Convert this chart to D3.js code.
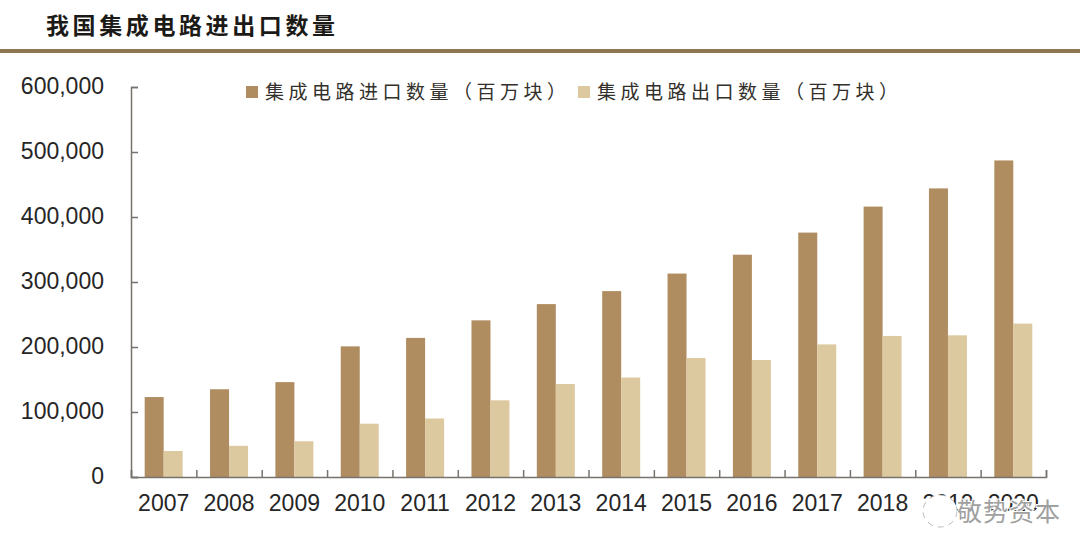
<!DOCTYPE html>
<html>
<head>
    <meta charset="utf-8">
    <title>我国集成电路进出口数量</title>
    <style>
        html, body { margin: 0; padding: 0; background-color: #fff; overflow: hidden; }
        text { font-family: "Liberation Sans", Arial, sans-serif; }
        .cjk { font-family: "Noto Sans CJK SC", sans-serif; }
    </style>
    <script src="https://d3js.org/d3.v7.min.js"></script>
</head>
<body>
    <svg id="chart" width="1080" height="539"></svg>
    <script>
        const titleText = "我国集成电路进出口数量";
        const years = ["2007", "2008", "2009", "2010", "2011", "2012", "2013", "2014", "2015", "2016", "2017", "2018", "2019", "2020"];
        const importValues = [123000, 135000, 146000, 201000, 214000, 241000, 266000, 286000, 313000, 342000, 376000, 416000, 444000, 487000];
        const exportValues = [40000, 48000, 55000, 82000, 90000, 118000, 143000, 153000, 183000, 180000, 204000, 217000, 218000, 236000];
        const yTicks = [0, 100000, 200000, 300000, 400000, 500000, 600000];
        const importName = "集成电路进口数量（百万块）";
        const exportName = "集成电路出口数量（百万块）";
        const watermark = "敬势资本";

        const svg = d3.select("#chart");
        const axisColor = "#77736c";
        const importColor = "#b08d60";
        const exportColor = "#dcc9a0";

        // plot area edges
        const plotLeft = 131, plotRight = 1046, plotTop = 87, plotBottom = 477;

        const x = d3.scaleBand().domain(years).range([plotLeft, plotRight]);
        const series = d3.scaleBand().domain(["import", "export"]).range([x.bandwidth() / 2 - 19, x.bandwidth() / 2 + 19]);
        const y = d3.scaleLinear().domain([0, 600000]).range([plotBottom, plotTop]);
        // ticks on the x axis sit between the categories
        const edges = d3.scaleLinear().domain([0, years.length]).range([plotLeft, plotRight]);

        // title and rule
        svg.append("text").attr("class", "cjk")
            .attr("x", 46).attr("y", 34)
            .attr("font-size", 23).attr("font-weight", 700)
            .attr("letter-spacing", 3.6).attr("fill", "#1c1a17")
            .text(titleText);
        svg.append("line")
            .attr("x1", 0).attr("x2", 1080).attr("y1", 51).attr("y2", 51)
            .attr("stroke", "#8d7552").attr("stroke-width", 4);

        // bars
        const groups = svg.selectAll(".year").data(years).enter().append("g")
            .attr("class", "year")
            .attr("transform", function (d) { return "translate(" + x(d) + ",0)"; });

        groups.append("rect")
            .attr("x", series("import")).attr("width", series.bandwidth())
            .attr("y", function (d, i) { return y(importValues[i]); })
            .attr("height", function (d, i) { return plotBottom - y(importValues[i]); })
            .attr("fill", importColor);

        groups.append("rect")
            .attr("x", series("export")).attr("width", series.bandwidth())
            .attr("y", function (d, i) { return y(exportValues[i]); })
            .attr("height", function (d, i) { return plotBottom - y(exportValues[i]); })
            .attr("fill", exportColor);

        // y axis
        const yAxis = svg.append("g")
            .attr("transform", "translate(" + plotLeft + ",0)")
            .call(d3.axisLeft(y).tickValues(yTicks).tickSize(-7).tickPadding(27).tickFormat(d3.format(",")));
        yAxis.selectAll("text").attr("font-size", 23).attr("fill", "#262626").attr("dy", "0.3em");

        // x axis: labels
        const xLabels = svg.append("g")
            .attr("transform", "translate(0," + plotBottom + ")")
            .call(d3.axisBottom(x).tickSize(0).tickPadding(18));
        xLabels.select(".domain").remove();
        xLabels.selectAll("text").attr("font-size", 23).attr("fill", "#262626");

        // x axis: line and ticks
        svg.append("g")
            .attr("transform", "translate(0," + plotBottom + ")")
            .call(d3.axisBottom(edges).tickValues(d3.range(years.length + 1)).tickSize(-7).tickFormat(""));

        svg.selectAll(".domain, .tick line").attr("stroke", axisColor).attr("stroke-width", 1.5);

        // legend
        const legend = [
            { name: importName, color: importColor, x: 246 },
            { name: exportName, color: exportColor, x: 578 }
        ];
        const items = svg.selectAll(".legend").data(legend).enter().append("g").attr("class", "legend");
        items.append("rect")
            .attr("x", function (d) { return d.x; }).attr("y", 86)
            .attr("width", 12).attr("height", 12)
            .attr("fill", function (d) { return d.color; });
        items.append("text").attr("class", "cjk")
            .attr("x", function (d) { return d.x + 19; }).attr("y", 99)
            .attr("font-size", 19).attr("letter-spacing", 4.5).attr("fill", "#33302b")
            .text(function (d) { return d.name; });

        // watermark over the bottom right labels
        svg.append("ellipse")
            .attr("cx", 940).attr("cy", 511).attr("rx", 17).attr("ry", 16)
            .attr("fill", "#fff").attr("stroke", "#a8a8a8").attr("stroke-width", 0.8).attr("stroke-dasharray", "6 5");
        svg.append("text").attr("class", "cjk")
            .attr("x", 957).attr("y", 521)
            .attr("font-size", 25).attr("letter-spacing", 1)
            .attr("fill", "#fff").attr("stroke", "#fff").attr("stroke-width", 2)
            .text(watermark);
        svg.append("text").attr("class", "cjk")
            .attr("x", 957).attr("y", 521)
            .attr("font-size", 25).attr("letter-spacing", 1)
            .attr("fill", "#a0a0a0")
            .text(watermark);
    </script>
</body>
</html>
